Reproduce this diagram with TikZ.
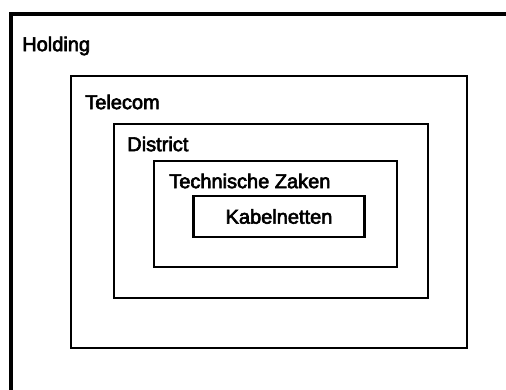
\documentclass[tikz,border=0pt]{standalone}
\usepackage{fontspec}
\setmainfont{Liberation Sans}[FakeBold=3]
\begin{document}
\begin{tikzpicture}[x=0.75pt,y=-0.75pt,
  box/.style={draw=black,line width=2.2pt},
  txt/.style={inner sep=0pt,font=\fontsize{15}{17}\selectfont},
  lbl/.style={txt,anchor=west}]
\useasboundingbox (0,0) rectangle (506,389);
\clip (0,0) rectangle (506,389);
\draw[box,line width=2.9pt] (11,14) rectangle (530,410);
\draw[box] (71,76) rectangle (467,348);
\draw[box] (114,124) rectangle (428,298);
\draw[box] (154,161) rectangle (397,267);
\node[box,minimum width=171*0.75pt,minimum height=41*0.75pt,inner sep=0pt] (kabel) at (279,216.5) {};
\node[lbl] (holding) at (22,46) {Holding};
\node[lbl] (telecom) at (85,102) {Telecom};
\node[lbl] (district) at (127,144) {District};
\node[lbl] (tech) at (169,181) {Technische Zaken};
\node[txt] at (kabel.center) {Kabelnetten};
\end{tikzpicture}
\end{document}
